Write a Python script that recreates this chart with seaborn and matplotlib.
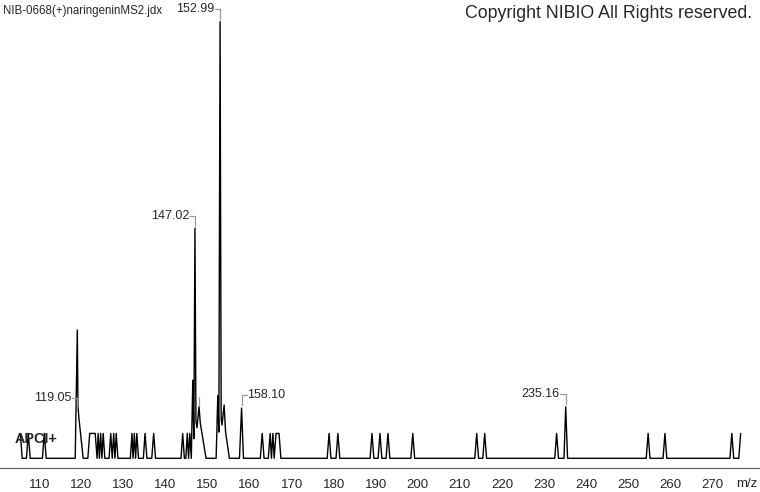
import matplotlib
matplotlib.use("Agg")
import matplotlib.pyplot as plt
from matplotlib import font_manager
from matplotlib.ticker import MultipleLocator
import pandas as pd
import seaborn as sns

# profile trace (m/z, relative intensity %)
trace_mz = [
    105.5, 105.95, 106.95, 107.4, 107.85, 110.75, 111.2, 111.65,
    118.55, 119.05, 119.2, 119.45, 120.45,
    121.55, 122.0, 123.3, 123.75, 124.0, 124.3, 124.6, 124.9, 125.2, 125.6,
    126.6, 127.0, 127.35, 127.7, 128.0, 128.3, 128.7,
    131.65, 132.05, 132.3, 132.6, 132.9, 133.2, 133.6,
    134.75, 135.15, 135.6, 136.75, 137.2, 137.65,
    143.7, 144.1, 144.5, 144.85, 145.2, 145.5, 145.8, 146.15,
    146.5, 146.75, 147.02, 147.25, 147.5, 147.98, 148.3, 149.65,
    152.05, 152.45, 152.7, 152.99, 153.25, 153.45, 153.95, 154.3, 155.2,
    157.6, 158.1, 158.55,
    162.55, 163.0, 163.45, 164.45, 164.9, 165.2, 165.55, 165.85, 166.3, 167.0, 167.45,
    178.45, 178.9, 179.35, 180.55, 181.0, 181.45,
    188.65, 189.1, 189.55, 190.55, 191.0, 191.45, 192.45, 192.9, 193.35,
    198.35, 198.8, 199.25,
    213.55, 214.0, 214.45, 215.45, 215.9, 216.35,
    232.55, 233.0, 233.45, 234.75, 235.16, 235.6,
    254.3, 254.75, 255.2, 258.3, 258.75, 259.2,
    274.2, 274.65, 275.1, 276.3, 276.75,
]
trace_int = [
    5.7, 0, 0, 5.7, 0, 0, 5.7, 0,
    0, 29.4, 12.0, 9.0, 0,
    0, 5.7, 5.7, 0, 5.7, 0, 5.7, 0, 5.7, 0,
    0, 5.7, 0, 5.7, 0, 5.7, 0,
    0, 5.7, 0, 5.7, 0, 5.7, 0,
    0, 5.7, 0, 0, 5.7, 0,
    0, 5.7, 0, 0, 5.7, 0, 5.7, 0,
    17.9, 4.5, 52.7, 8.5, 7.0, 11.8, 8.0, 0,
    0, 14.4, 6.0, 100.0, 9.0, 7.6, 12.2, 6.0, 0,
    0, 11.5, 0,
    0, 5.7, 0, 0, 5.7, 0, 5.7, 0, 5.7, 5.7, 0,
    0, 5.7, 0, 0, 5.7, 0,
    0, 5.7, 0, 0, 5.7, 0, 0, 5.7, 0,
    0, 5.7, 0,
    0, 5.7, 0, 0, 5.7, 0,
    0, 5.7, 0, 0, 11.8, 0,
    0, 5.7, 0, 0, 5.7, 0,
    0, 5.7, 0, 0, 5.7,
]

# labelled peaks
peak_mz = [119.05, 147.02, 152.99, 158.10, 235.16]
peak_int = [11.0, 52.7, 100.0, 11.5, 11.8]
peak_text = ["119.05", "147.02", "152.99", "158.10", "235.16"]
peak_side = ["left", "left", "left", "right", "left"]

# leader without text
unlabeled_mz = [147.98]
unlabeled_int = [11.8]

tick_values = list(range(110, 280, 10))
tick_labels = [str(v) for v in tick_values]

file_name = "NIB-0668(+)naringeninMS2.jdx"
copyright_text = "Copyright NIBIO All Rights reserved."
ion_mode = "APCI+"
x_unit = "m/z"

sns.set_style("white")
plt.rcParams["font.family"] = ["Liberation Sans", "DejaVu Sans"]
names = {f.name for f in font_manager.fontManager.ttflist}
tick_font = "Liberation Sans Narrow" if "Liberation Sans Narrow" in names else "Liberation Sans"

fig = plt.figure(figsize=(7.6, 4.92), dpi=100)
ax = fig.add_axes([0, 24 / 492, 1, 468 / 492])

spec = pd.DataFrame({"mz": trace_mz, "intensity": trace_int})
sns.lineplot(data=spec, x="mz", y="intensity", ax=ax, color="black",
             lw=1.0, estimator=None, sort=False)

ax.set_xlim(100.67, 281.35)
ax.set_ylim(-2.22, 104.97)

# peak labels with small bracket leaders
gray = "#9a9a9a"
stub = 1.3
for mz, h, txt, side in zip(peak_mz, peak_int, peak_text, peak_side):
    y_lab = h + 2.9
    ax.plot([mz, mz], [y_lab, h + 0.6], color=gray, lw=0.9)
    if side == "left":
        ax.plot([mz - stub, mz], [y_lab, y_lab], color=gray, lw=0.9)
        ax.text(mz - stub - 0.1, y_lab, txt, ha="right", va="center", fontsize=9)
    else:
        ax.plot([mz, mz + stub], [y_lab, y_lab], color=gray, lw=0.9)
        ax.text(mz + stub + 0.1, y_lab, txt, ha="left", va="center", fontsize=9)
for mz, h in zip(unlabeled_mz, unlabeled_int):
    ax.plot([mz, mz], [h + 2.3, h + 0.5], color=gray, lw=0.9)

for side in ["left", "right", "top"]:
    ax.spines[side].set_visible(False)
ax.spines["bottom"].set_color("#555555")
ax.spines["bottom"].set_linewidth(0.8)

ax.set_yticks([])
ax.set_xticks(tick_values, tick_labels, fontfamily=tick_font)
ax.xaxis.set_minor_locator(MultipleLocator(1))
ax.tick_params(axis="x", which="major", length=5, width=0.8, color="#555555",
               labelsize=9.5, pad=3)
ax.tick_params(axis="x", which="minor", length=4, width=0.6, color="#555555")
ax.set_xlabel("")
ax.set_ylabel("")

ax.text(278.2, -0.034, x_unit, transform=ax.get_xaxis_transform(),
        ha="center", va="center", fontsize=9.5, fontfamily=tick_font)

fig.text(3 / 760, 1 - 11 / 492, file_name, ha="left", va="center", fontsize=8.3)
fig.text(752 / 760, 1 - 14 / 492, copyright_text, ha="right", va="center", fontsize=12.8)
fig.text(15 / 760, 1 - 439 / 492, ion_mode, ha="left", va="center",
         fontsize=10.4, fontweight="bold")

fig.savefig("out.png", dpi=100)
